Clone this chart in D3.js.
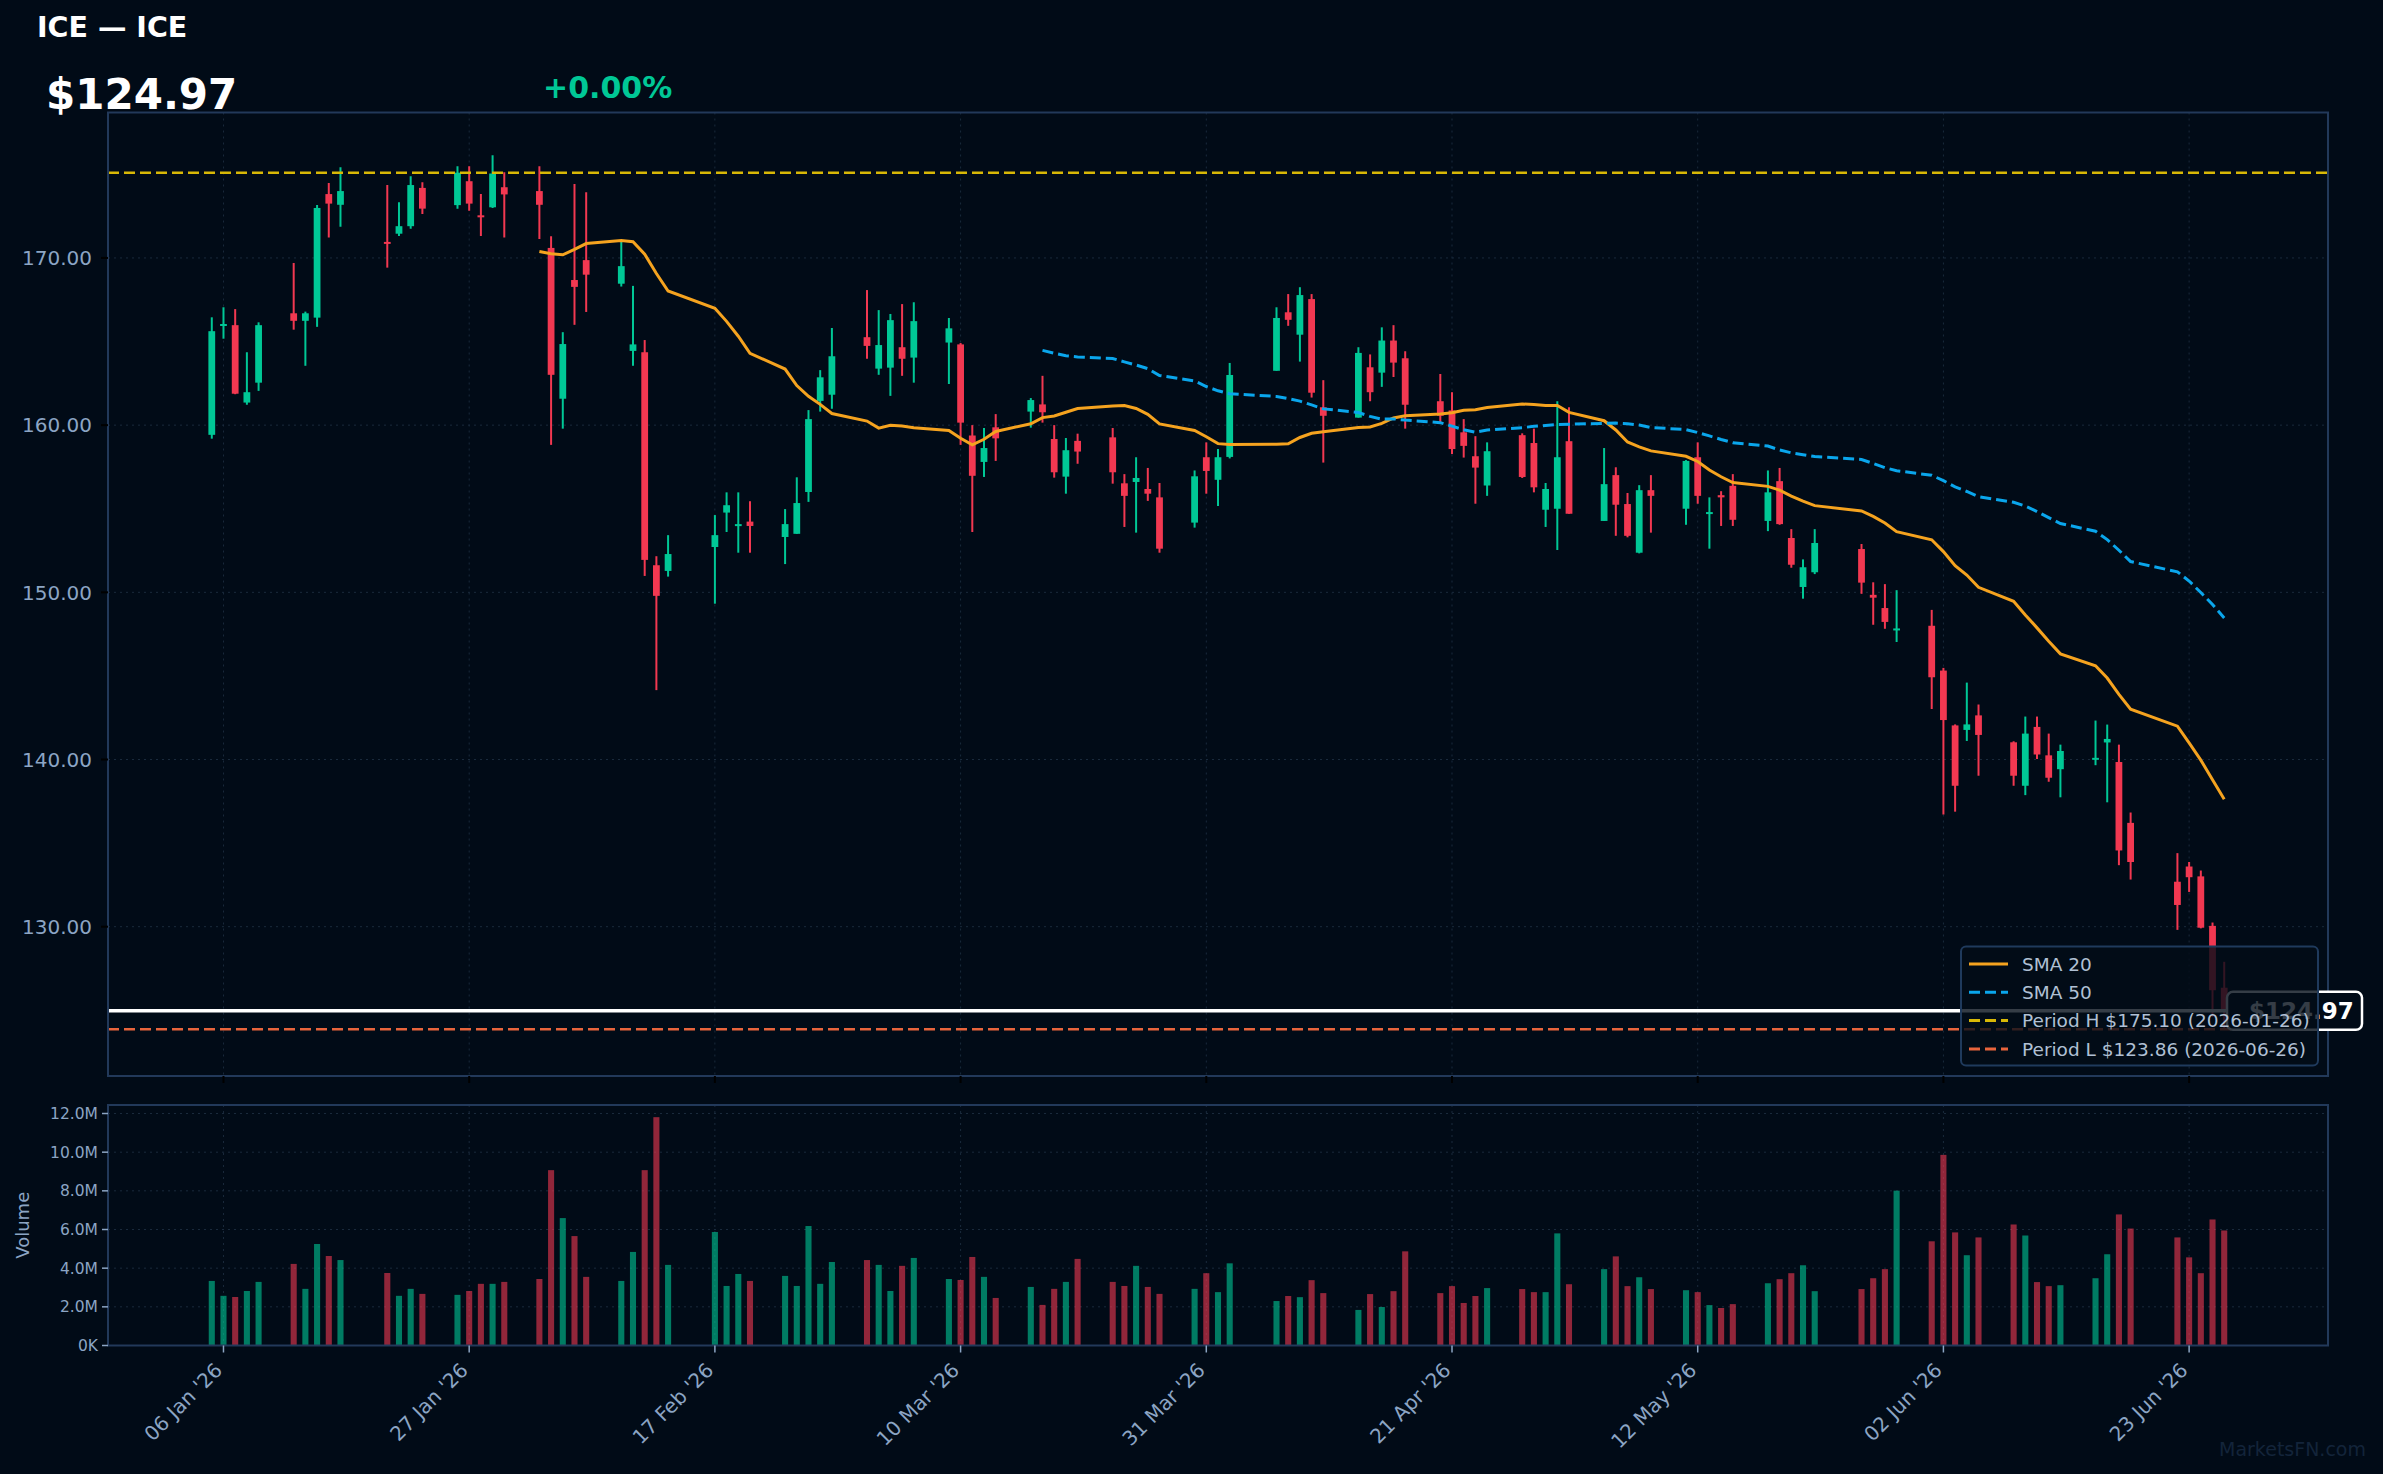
<!DOCTYPE html>
<html>
<head>
<meta charset="utf-8">
<script src="https://cdn.jsdelivr.net/npm/d3@7"></script>
<style>
  body { margin: 0; background: #010b17; }
  svg { display: block; font-family: "DejaVu Sans", sans-serif; }
</style>
</head>
<body>
<svg width="2383" height="1474"></svg>
<script>
// trading days, Jan 5 -> Jun 26 2026
const dates = [
  '2026-01-05','2026-01-06','2026-01-07','2026-01-08','2026-01-09',
  '2026-01-12','2026-01-13','2026-01-14','2026-01-15','2026-01-16',
  '2026-01-20','2026-01-21','2026-01-22','2026-01-23',
  '2026-01-26','2026-01-27','2026-01-28','2026-01-29','2026-01-30',
  '2026-02-02','2026-02-03','2026-02-04','2026-02-05','2026-02-06',
  '2026-02-09','2026-02-10','2026-02-11','2026-02-12','2026-02-13',
  '2026-02-17','2026-02-18','2026-02-19','2026-02-20',
  '2026-02-23','2026-02-24','2026-02-25','2026-02-26','2026-02-27',
  '2026-03-02','2026-03-03','2026-03-04','2026-03-05','2026-03-06',
  '2026-03-09','2026-03-10','2026-03-11','2026-03-12','2026-03-13',
  '2026-03-16','2026-03-17','2026-03-18','2026-03-19','2026-03-20',
  '2026-03-23','2026-03-24','2026-03-25','2026-03-26','2026-03-27',
  '2026-03-30','2026-03-31','2026-04-01','2026-04-02',
  '2026-04-06','2026-04-07','2026-04-08','2026-04-09','2026-04-10',
  '2026-04-13','2026-04-14','2026-04-15','2026-04-16','2026-04-17',
  '2026-04-20','2026-04-21','2026-04-22','2026-04-23','2026-04-24',
  '2026-04-27','2026-04-28','2026-04-29','2026-04-30','2026-05-01',
  '2026-05-04','2026-05-05','2026-05-06','2026-05-07','2026-05-08',
  '2026-05-11','2026-05-12','2026-05-13','2026-05-14','2026-05-15',
  '2026-05-18','2026-05-19','2026-05-20','2026-05-21','2026-05-22',
  '2026-05-26','2026-05-27','2026-05-28','2026-05-29',
  '2026-06-01','2026-06-02','2026-06-03','2026-06-04','2026-06-05',
  '2026-06-08','2026-06-09','2026-06-10','2026-06-11','2026-06-12',
  '2026-06-15','2026-06-16','2026-06-17','2026-06-18',
  '2026-06-22','2026-06-23','2026-06-24','2026-06-25','2026-06-26'
]
const open = [
  159.42,166.00,165.98,161.35,162.54, 166.69,166.24,166.43,173.82,173.18,
  170.96,171.45,171.90,174.19, 173.16,174.59,172.55,173.03,174.23,
  174.00,170.60,161.58,168.68,169.87, 168.46,164.44,164.36,151.62,151.28,
  152.71,154.77,154.03,154.23, 153.31,153.50,156.00,161.45,161.82,
  165.26,163.38,163.44,164.66,164.04, 164.94,164.83,159.38,157.80,159.87,
  160.81,161.24,159.17,156.92,159.06, 159.27,156.52,156.60,156.18,155.68,
  154.17,158.08,156.73,158.10, 163.25,166.75,165.41,167.54,161.07,
  160.45,163.46,163.14,165.06,164.00, 161.43,160.88,159.57,158.14,156.39,
  159.40,158.93,154.94,155.00,159.04, 154.27,157.01,155.28,152.37,156.11,
  155.00,158.08,154.77,155.81,156.37, 154.27,156.65,153.25,150.32,151.20,
  152.59,149.85,149.06,147.80, 148.00,145.32,142.04,141.77,142.64,
  141.03,138.43,141.95,140.25,139.42, 140.05,141.02,139.85,136.21,
  132.69,133.60,133.01,130.05,126.35
]
const high = [
  166.45,167.05,166.94,164.36,166.15, 169.70,166.79,173.16,174.49,175.43,
  174.36,173.33,174.89,174.53, 175.49,175.49,173.82,176.15,175.13,
  175.49,171.30,165.56,174.42,173.93, 170.96,168.33,165.09,152.16,153.42,
  154.62,155.98,155.98,155.45, 154.98,156.88,160.90,163.29,165.81,
  168.08,166.88,166.65,167.24,167.35, 166.41,164.91,160.00,159.83,160.66,
  161.62,162.95,160.00,159.23,159.49, 159.83,157.07,158.08,157.44,156.54,
  157.29,158.97,158.57,163.72, 167.05,167.84,168.25,167.84,162.69,
  164.66,164.23,165.85,165.98,164.42, 163.06,161.97,160.36,159.34,158.97,
  159.51,159.79,156.54,161.43,161.07, 158.63,157.48,155.94,156.41,157.01,
  157.91,158.97,155.68,156.05,157.07, 157.29,157.44,153.78,151.97,153.78,
  152.89,150.60,150.49,150.13, 148.95,145.48,142.10,144.60,143.29,
  141.09,142.57,142.57,141.55,140.89, 142.33,142.09,140.89,136.83,
  134.40,133.87,133.36,130.25,127.90
]
const low = [
  159.19,165.17,161.85,161.22,162.05, 165.71,163.55,165.88,171.22,171.86,
  169.42,171.32,171.75,172.63, 172.95,172.82,171.32,172.99,171.22,
  171.13,158.82,159.79,166.00,166.77, 168.29,163.55,150.98,144.15,150.94,
  149.32,153.61,152.37,152.37, 151.69,153.50,155.41,160.81,160.98,
  163.97,163.01,161.75,162.95,162.54, 162.46,158.82,153.61,156.90,157.86,
  159.85,160.15,156.86,155.90,157.69, 156.50,153.91,153.57,155.47,152.37,
  153.87,155.90,155.17,158.01, 163.25,165.94,163.80,161.65,157.76,
  160.45,161.43,162.29,162.88,159.79, 160.17,158.27,158.06,155.30,155.77,
  156.84,155.98,153.91,152.53,154.70, 154.27,153.38,153.29,152.33,153.57,
  154.04,155.30,152.61,153.97,153.97, 153.66,154.04,151.47,149.62,151.09,
  149.91,148.06,147.82,147.03, 143.02,136.71,136.88,141.11,139.03,
  138.43,137.87,140.03,138.67,137.74, 139.66,137.44,133.68,132.82,
  129.81,132.08,129.90,124.60,123.86
]
const close = [
  165.62,166.05,161.88,161.97,165.98, 166.24,166.69,172.99,173.25,174.00,
  170.90,171.90,174.36,172.95, 175.10,173.25,172.45,175.05,173.80,
  173.18,163.01,164.85,168.27,169.00, 169.51,164.83,151.94,149.79,152.29,
  153.42,155.21,154.08,153.97, 154.08,155.34,160.36,162.86,164.12,
  164.74,164.79,166.28,163.97,166.22, 165.79,160.15,156.97,158.63,159.21,
  161.50,160.77,157.18,158.50,158.42, 157.18,155.77,156.84,155.90,152.61,
  156.94,157.26,158.08,163.00, 166.41,166.30,167.78,161.94,160.56,
  164.32,161.97,165.06,163.74,161.22, 160.56,158.57,158.76,157.46,158.44,
  156.90,156.28,156.18,158.08,154.70, 156.47,155.24,153.38,156.11,155.77,
  157.86,155.77,154.80,155.68,154.34, 155.98,154.08,151.65,151.50,152.95,
  150.58,149.68,148.23,147.84, 144.92,142.36,138.43,142.10,141.47,
  139.03,141.55,140.30,138.91,140.51, 140.10,141.23,134.56,133.87,
  131.30,132.96,129.94,126.20,124.97
]
// volume in millions
const volume = [
  3.34,2.57,2.51,2.82,3.29, 4.22,2.93,5.25,4.63,4.42,
  3.75,2.57,2.93,2.67, 2.62,2.82,3.19,3.19,3.29,
  3.44,9.07,6.59,5.66,3.55, 3.34,4.84,9.07,11.81,4.17,
  5.87,3.08,3.70,3.34, 3.60,3.08,6.18,3.19,4.32,
  4.42,4.17,2.82,4.12,4.53, 3.44,3.39,4.58,3.55,2.46,
  3.03,2.10,2.93,3.29,4.48, 3.29,3.08,4.12,3.03,2.67,
  2.93,3.74,2.76,4.25, 2.30,2.56,2.50,3.38,2.71,
  1.84,2.66,1.99,2.81,4.87, 2.71,3.07,2.20,2.56,2.97,
  2.92,2.76,2.76,5.80,3.17, 3.95,4.61,3.07,3.53,2.92,
  2.86,2.76,2.09,1.94,2.14, 3.22,3.43,3.74,4.15,2.81,
  2.92,3.48,3.95,8.01, 5.39,9.86,5.85,4.67,5.59,
  6.26,5.69,3.28,3.07,3.12, 3.48,4.72,6.78,6.05,
  5.59,4.56,3.74,6.52,5.95
]
const tickDates = ['2026-01-06','2026-01-27','2026-02-17','2026-03-10','2026-03-31',
  '2026-04-21','2026-05-12','2026-06-02','2026-06-23']
const priceTicks = [130, 140, 150, 160, 170]
const volTicks = [0, 2, 4, 6, 8, 10, 12]
const periodHigh = 175.10
const periodLow = 123.86
const lastPrice = 124.97
const legendLabels = ['SMA 20', 'SMA 50', 'Period H $175.10 (2026-01-26)', 'Period L $123.86 (2026-06-26)']

const svg = d3.select('svg')
const parse = d3.utcParse('%Y-%m-%d')
const day = 864e5

const UP = '#00c896'
const DOWN = '#f23851'
const AXIS = '#8ca5c4'
const FRAME = '#22395a'
const GRID = '#1a2a3c'

const L = 108, R = 2328
const mainTop = 112.5, mainBot = 1076
const volTop = 1105, volBot = 1345.5

const bars = dates.map((d, i) => ({
  date: parse(d), o: open[i], h: high[i], l: low[i], c: close[i], v: volume[i]
}))

const pad = 8.87 * day
const x = d3.scaleUtc()
  .domain([+bars[0].date - pad, +bars[bars.length - 1].date + pad])
  .range([L, R])
const y = d3.scaleLinear().domain([121.07, 178.7]).range([mainBot, mainTop])
const yv = d3.scaleLinear().domain([0, 12.44]).range([volBot, volTop])

const candleW = x(+x.domain()[0] + 0.58 * day) - L
const volW = x(+x.domain()[0] + 0.52 * day) - L

// grid
const grid = svg.append('g')
  .attr('stroke', GRID).attr('stroke-dasharray', '2,4').attr('stroke-width', 1)
priceTicks.forEach(t => {
  grid.append('line').attr('x1', L).attr('x2', R).attr('y1', y(t)).attr('y2', y(t))
})
volTicks.forEach(t => {
  grid.append('line').attr('x1', L).attr('x2', R).attr('y1', yv(t)).attr('y2', yv(t))
})
tickDates.forEach(t => {
  const xx = x(parse(t))
  grid.append('line').attr('x1', xx).attr('x2', xx).attr('y1', mainTop).attr('y2', mainBot)
  grid.append('line').attr('x1', xx).attr('x2', xx).attr('y1', volTop).attr('y2', volBot)
})

svg.append('clipPath').attr('id', 'mainClip')
  .append('rect').attr('x', L).attr('y', mainTop).attr('width', R - L).attr('height', mainBot - mainTop)

const plot = svg.append('g').attr('clip-path', 'url(#mainClip)')

// candles
const candle = plot.selectAll('g.c').data(bars).join('g')
  .attr('fill', d => d.c >= d.o ? UP : DOWN)
  .attr('stroke', d => d.c >= d.o ? UP : DOWN)
candle.append('line')
  .attr('x1', d => x(d.date)).attr('x2', d => x(d.date))
  .attr('y1', d => y(d.h)).attr('y2', d => y(d.l))
  .attr('stroke-width', 2)
candle.append('rect')
  .attr('x', d => x(d.date) - candleW / 2)
  .attr('width', candleW)
  .attr('y', d => y(Math.max(d.o, d.c)))
  .attr('height', d => Math.max(2, Math.abs(y(d.o) - y(d.c))))
  .attr('stroke', 'none')

// moving averages
function sma(n) {
  return bars.map((b, i) => {
    if (i < n - 1) return null
    return { date: b.date, v: d3.mean(bars.slice(i - n + 1, i + 1), d => d.c) }
  }).filter(d => d)
}
const line = d3.line().x(d => x(d.date)).y(d => y(d.v))
plot.append('path').datum(sma(20)).attr('d', line)
  .attr('fill', 'none').attr('stroke', '#f5a31f').attr('stroke-width', 3)
plot.append('path').datum(sma(50)).attr('d', line)
  .attr('fill', 'none').attr('stroke', '#0aa6ec').attr('stroke-width', 3)
  .attr('stroke-dasharray', '11,5')

// period high / low + last price
plot.append('line').attr('x1', L).attr('x2', R).attr('y1', y(periodHigh)).attr('y2', y(periodHigh))
  .attr('stroke', '#d8b806').attr('stroke-width', 2.5).attr('stroke-dasharray', '11,5')
plot.append('line').attr('x1', L).attr('x2', R).attr('y1', y(periodLow)).attr('y2', y(periodLow))
  .attr('stroke', '#e8643c').attr('stroke-width', 2.5).attr('stroke-dasharray', '11,5')
plot.append('line').attr('x1', L).attr('x2', R).attr('y1', y(lastPrice)).attr('y2', y(lastPrice))
  .attr('stroke', '#ffffff').attr('stroke-width', 3.5)

// volume bars
svg.append('g').selectAll('rect').data(bars).join('rect')
  .attr('x', d => x(d.date) - volW / 2)
  .attr('width', volW)
  .attr('y', d => yv(d.v))
  .attr('height', d => volBot - yv(d.v))
  .attr('fill', d => d.c >= d.o ? UP : DOWN)
  .attr('opacity', 0.6)

// frames
svg.append('rect').attr('x', L).attr('y', mainTop).attr('width', R - L).attr('height', mainBot - mainTop)
  .attr('fill', 'none').attr('stroke', FRAME).attr('stroke-width', 2)
svg.append('rect').attr('x', L).attr('y', volTop).attr('width', R - L).attr('height', volBot - volTop)
  .attr('fill', 'none').attr('stroke', FRAME).attr('stroke-width', 2)

// price axis
const yAx = svg.append('g').attr('font-size', 20).attr('fill', AXIS).attr('text-anchor', 'end')
priceTicks.forEach(t => {
  yAx.append('line').attr('x1', L - 7).attr('x2', L).attr('y1', y(t)).attr('y2', y(t))
    .attr('stroke', '#000').attr('stroke-width', 2)
  yAx.append('text').attr('x', L - 16).attr('y', y(t)).attr('dy', '0.36em').text(t.toFixed(2))
})
// volume axis
const vAx = svg.append('g').attr('font-size', 15.5).attr('fill', AXIS).attr('text-anchor', 'end')
volTicks.forEach(t => {
  vAx.append('line').attr('x1', L - 6).attr('x2', L).attr('y1', yv(t)).attr('y2', yv(t))
    .attr('stroke', AXIS).attr('stroke-width', 1.5)
  vAx.append('text').attr('x', L - 10).attr('y', yv(t)).attr('dy', '0.36em')
    .text(t === 0 ? '0K' : t.toFixed(1) + 'M')
})
svg.append('text').attr('transform', `translate(29,${(volTop + volBot) / 2}) rotate(-90)`)
  .attr('text-anchor', 'middle').attr('font-size', 18).attr('fill', AXIS).text('Volume')

// x axis
const fmt = d3.utcFormat("%d %b '%y")
const xAx = svg.append('g').attr('font-size', 20).attr('fill', AXIS)
tickDates.forEach(t => {
  const xx = x(parse(t))
  xAx.append('line').attr('x1', xx).attr('x2', xx).attr('y1', volBot).attr('y2', volBot + 7)
    .attr('stroke', AXIS).attr('stroke-width', 1.5)
  xAx.append('line').attr('x1', xx).attr('x2', xx).attr('y1', mainBot).attr('y2', mainBot + 7)
    .attr('stroke', '#000').attr('stroke-width', 2)
  xAx.append('text').attr('transform', `translate(${xx - 5},${volBot + 21}) rotate(-45)`)
    .attr('text-anchor', 'end').attr('dy', '0.35em').text(fmt(parse(t)))
})

// header
svg.append('text').attr('x', 37).attr('y', 37).attr('font-size', 28.5).attr('font-weight', 'bold')
  .attr('fill', '#ffffff').text('ICE — ICE')
svg.append('text').attr('x', 46).attr('y', 109).attr('font-size', 42).attr('font-weight', 'bold')
  .attr('fill', '#ffffff').text('$' + lastPrice.toFixed(2))
svg.append('text').attr('x', 543).attr('y', 98).attr('font-size', 30).attr('font-weight', 'bold')
  .attr('fill', UP).text('+0.00%')

// last price tag
const tagY = y(lastPrice)
svg.append('rect').attr('x', 2227).attr('y', tagY - 19).attr('width', 135).attr('height', 38)
  .attr('rx', 6).attr('fill', '#010b17').attr('stroke', '#ffffff').attr('stroke-width', 2.5)
svg.append('text').attr('x', 2249).attr('y', tagY).attr('dy', '0.36em')
  .attr('font-size', 23).attr('font-weight', 'bold').attr('fill', '#ffffff')
  .text('$' + lastPrice.toFixed(2))

// legend, drawn over the price tag like the original
const lg = svg.append('g')
lg.append('rect').attr('x', 1961).attr('y', 946.5).attr('width', 357).attr('height', 119)
  .attr('rx', 5).attr('fill', '#020c18').attr('fill-opacity', 0.8)
  .attr('stroke', '#1f3a5c').attr('stroke-width', 2)
const lgColors = ['#f5a31f', '#0aa6ec', '#d8b806', '#e8643c']
const lgDash = [null, '11,5', '11,5', '11,5']
legendLabels.forEach((t, i) => {
  const ly = 964 + i * 28.3
  lg.append('line').attr('x1', 1969).attr('x2', 2008).attr('y1', ly).attr('y2', ly)
    .attr('stroke', lgColors[i]).attr('stroke-width', 3).attr('stroke-dasharray', lgDash[i])
  lg.append('text').attr('x', 2022).attr('y', ly).attr('dy', '0.36em')
    .attr('font-size', 18.5).attr('fill', '#b0c0d4').text(t)
})

// watermark
svg.append('text').attr('x', 2366).attr('y', 1456).attr('text-anchor', 'end')
  .attr('font-size', 19).attr('fill', '#13243a').text('MarketsFN.com')
</script>
</body>
</html>
